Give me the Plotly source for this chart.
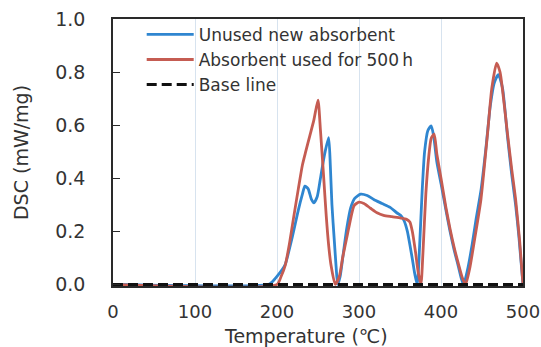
import plotly.graph_objects as go

# ---- data ----
blue_T = [0, 190, 195, 200, 205, 210, 218, 226, 231, 234, 238, 242, 245, 249, 253, 258, 263,
          265, 267, 270, 272, 274, 277, 281, 285, 290, 295, 302, 310, 318, 328, 338, 346, 351,
          355, 359, 362, 365, 368, 371, 374, 377, 380, 384, 388, 391, 395, 400, 406, 411, 416,
          421, 425, 427.5, 432, 438, 443, 449, 455, 460, 465, 470, 475, 481, 486, 491, 495, 500]
blue_v = [0, 0, 0.012, 0.03, 0.05, 0.075, 0.17, 0.28, 0.34, 0.37, 0.36, 0.32, 0.307, 0.33, 0.40, 0.49, 0.553,
          0.45, 0.30, 0.16, 0.07, 0.0, 0.03, 0.12, 0.21, 0.29, 0.325, 0.34, 0.335, 0.32, 0.305, 0.29, 0.27, 0.26,
          0.24, 0.20, 0.15, 0.097, 0.04, 0.0, 0.15, 0.35, 0.50, 0.58, 0.597, 0.56, 0.46, 0.38, 0.28, 0.20, 0.13,
          0.07, 0.02, 0.0, 0.05, 0.15, 0.25, 0.36, 0.52, 0.67, 0.76, 0.79, 0.74, 0.56, 0.42, 0.30, 0.18, 0.0]

red_T = [0, 200, 205, 210, 215, 220, 226, 231, 235, 240, 245, 250, 253, 257, 260, 263, 266, 271,
         276, 280, 286, 290, 294, 300, 306, 314, 322, 330, 340, 351, 358, 362, 365, 369, 372, 375.5,
         378, 381.5, 385, 388, 391.6, 395, 400, 406, 411, 416, 421, 426, 430, 435, 441, 448.7, 456.8,
         462, 467.8, 472, 477, 481, 486, 491, 496, 500]
red_v = [0, 0, 0.03, 0.072, 0.15, 0.247, 0.36, 0.45, 0.50, 0.56, 0.62, 0.694, 0.58, 0.40, 0.26, 0.147, 0.07, 0.0,
         0.03, 0.10, 0.19, 0.25, 0.297, 0.31, 0.305, 0.287, 0.27, 0.26, 0.255, 0.25, 0.245, 0.235, 0.20, 0.12, 0.05, 0.0,
         0.12, 0.34, 0.48, 0.55, 0.566, 0.49, 0.40, 0.29, 0.21, 0.14, 0.08, 0.025, 0.0, 0.06, 0.17, 0.32, 0.57,
         0.74, 0.834, 0.80, 0.68, 0.57, 0.44, 0.32, 0.16, 0.0]

base_T = [0, 500]
base_v = [0, 0]

x_ticks = [0, 100, 200, 300, 400, 500]
y_ticks = [0.0, 0.2, 0.4, 0.6, 0.8, 1.0]
y_tick_text = ["0.0", "0.2", "0.4", "0.6", "0.8", "1.0"]

names = ["Unused new absorbent", "Absorbent used for 500\u2009h", "Base line"]
x_title = "Temperature (\u2103)"
y_title = "DSC (mW/mg)"

FONT = "DejaVu Sans, Verdana, sans-serif"
TXT = "#333333"

fig = go.Figure()
fig.add_trace(go.Scatter(x=blue_T, y=blue_v, mode="lines", name=names[0],
                         line=dict(color="#2f86d0", width=2.8, shape="spline", smoothing=0.6)))
fig.add_trace(go.Scatter(x=red_T, y=red_v, mode="lines", name=names[1],
                         line=dict(color="#c55c52", width=2.8, shape="spline", smoothing=0.6)))
fig.add_trace(go.Scatter(x=base_T, y=base_v, mode="lines", name=names[2],
                         line=dict(color="#111111", width=3, dash="10px,5px")))

fig.update_layout(
    width=541, height=347,
    margin=dict(l=113, r=18, t=19, b=61, autoexpand=False),
    paper_bgcolor="white", plot_bgcolor="white",
    font=dict(family=FONT, color=TXT, size=18),
    showlegend=True,
    legend=dict(x=0.07, y=1.008, xanchor="left", yanchor="top",
                bgcolor="rgba(0,0,0,0)", font=dict(size=17, color=TXT),
                tracegroupgap=0, itemwidth=47),
    annotations=[dict(text=x_title, xref="paper", yref="paper", x=0.471, y=-0.187,
                      xanchor="center", yanchor="middle", showarrow=False,
                      font=dict(size=19, color=TXT))],
)
fig.update_xaxes(
    automargin=False,
    range=[0, 500], tickvals=x_ticks, ticks="", showgrid=True,
    gridcolor="#d7e3ef", gridwidth=1, zeroline=False,
    showline=True, linecolor="#2a2a2a", linewidth=1.5, mirror=True,
    tickfont=dict(size=18, color=TXT), ticklabelstandoff=9,
)
fig.update_yaxes(
    automargin=False,
    range=[-0.006, 1.0], tickvals=y_ticks, ticktext=y_tick_text,
    ticks="inside", ticklen=7, tickcolor="#2a2a2a", tickwidth=1.2,
    showgrid=False, zeroline=False,
    showline=True, linecolor="#2a2a2a", linewidth=1.5, mirror=True,
    tickfont=dict(size=19, color=TXT), ticklabelstandoff=22,
    title=dict(text=y_title, font=dict(size=19, color=TXT), standoff=22),
)

fig.write_html("out.html",
               config={"displayModeBar": False},
               post_script="document.body.style.margin='0';document.body.style.overflow='hidden';")
